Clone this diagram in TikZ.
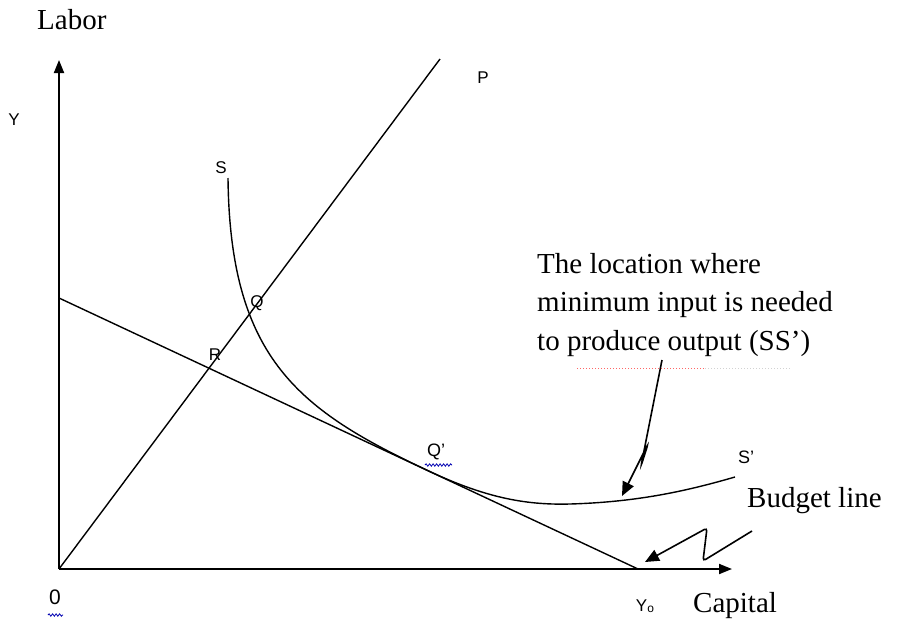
\documentclass[tikz,border=0pt]{standalone}
\usepackage{fontspec}
\setmainfont{Liberation Serif}
\newfontfamily\lsans{Liberation Sans}
\usetikzlibrary{arrows.meta,decorations.pathmorphing}
\begin{document}
\begin{tikzpicture}[x=1pt,y=-1pt,
  axis/.style={line width=1.9pt,-{Triangle[length=13pt,width=10pt]}},
  curveline/.style={line width=1.4pt},
  pointer/.style={line width=1.6pt,rounded corners=3pt,-{Triangle[length=14pt,width=12pt]}},
  lbl/.style={font=\lsans\fontsize{17}{17}\selectfont, inner sep=0pt},
  bigtxt/.style={font=\fontsize{29}{38.5}\selectfont, inner sep=0pt},
  squiggle/.style={blue!70!black, line width=0.8pt, decorate, decoration={snake,amplitude=1.2pt,segment length=3.5pt}}
]
\fill[white] (0,0) rectangle (903,622);
\useasboundingbox (0,0) rectangle (903,622);
% key points
\coordinate (O) at (59,569);
\coordinate (Ytop) at (59,60);
\coordinate (Xtip) at (732,569);
\coordinate (B1) at (59,298);
\coordinate (B2) at (638,569);
\coordinate (Ptop) at (440,59);
\coordinate (S0) at (228,178);
\coordinate (T) at (430,471.6);
\coordinate (M) at (570,504);
\coordinate (S1) at (735,477);
% axes
\draw[axis] (O) -- (Ytop);
\draw[axis] (O) -- (Xtip);
% budget line and ray
\draw[curveline] (B1) -- (B2);
\draw[curveline] (O) -- (Ptop);
% isoquant SS'
\draw[curveline] (S0) .. controls (230,360) and (300,410.8) .. (T)
  .. controls (490,499.7) and (530,505) .. (M)
  .. controls (640,502) and (690,490) .. (S1);
% labels
\node[bigtxt, anchor=base west] (labor) at (37,29) {Labor};
\node[lbl] (ylab) at (14,120) {Y};
\node[lbl] (plab) at (483,78) {P};
\node[lbl] (slab) at (221,168) {S};
\node[lbl] (qlab) at (257,303) {Q};
\node[lbl] (rlab) at (215,355) {R};
\node[lbl, font=\lsans\fontsize{18}{18}\selectfont] (qplab) at (436,452) {Q’};
\node[lbl, font=\lsans\fontsize{18}{18}\selectfont] (splab) at (746,457) {S’};
\node[lbl, font=\lsans\fontsize{21}{21}\selectfont] (zlab) at (55,597) {0};
\node[lbl] (y0lab) at (645,606) {Y\raisebox{-1.5pt}{\fontsize{12}{12}\selectfont o}};
\node[bigtxt, anchor=base west] (cap) at (693,612) {Capital};
\node[bigtxt, anchor=base west] (bud) at (747,507) {Budget line};
\node[bigtxt, anchor=north west, align=left] (note) at (537,253)
  {The location where\\minimum input is needed\\to produce output (SS’)};
% spell-check marks
\draw[squiggle] (48,615) -- (63,615);
\draw[squiggle] (425,465) -- (452,465);
\draw[red!60, dotted, line width=1pt] (577,368) -- (705,368);
\draw[gray!35, dotted, line width=1pt] (705,368) -- (790,368);
% pointer arrows
\coordinate (a0) at (662,360);
\coordinate (a1) at (641,466);
\coordinate (a2) at (648,444);
\coordinate (a3) at (622,496);
\draw[pointer] (a0) -- (a1) -- (a2) -- (a3);
\coordinate (b0) at (752,531);
\coordinate (b1) at (703,561);
\coordinate (b2) at (707,528);
\coordinate (b3) at (645,562);
\draw[pointer] (b0) -- (b1) -- (b2) -- (b3);
\end{tikzpicture}
\end{document}
